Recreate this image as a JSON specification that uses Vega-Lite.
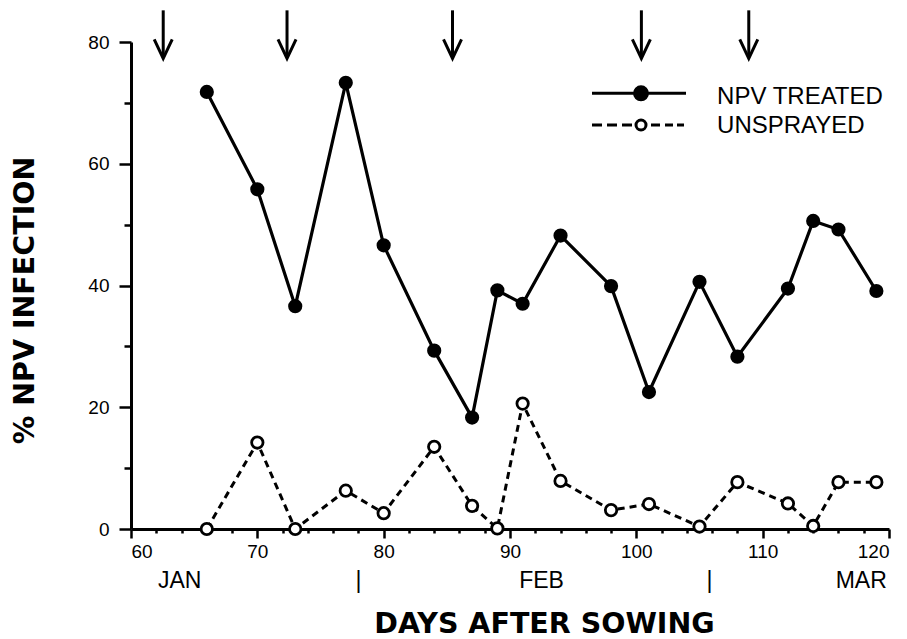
{
  "$schema": "https://vega.github.io/schema/vega-lite/v6.json",
  "autosize": {"type": "none"},
  "padding": {"left": 131, "top": 42, "right": 18, "bottom": 110},
  "width": 758,
  "height": 487,
  "background": "white",
  "config": {
    "view": {"stroke": null},
    "font": "Liberation Sans",
    "axis": {"domainColor": "black", "tickColor": "black", "labelColor": "black", "titleColor": "black", "grid": false}
  },
  "datasets": {
    "obs": [
      {"day": 66, "pct": 71.8, "series": "NPV TREATED"},
      {"day": 70, "pct": 55.8, "series": "NPV TREATED"},
      {"day": 73, "pct": 36.6, "series": "NPV TREATED"},
      {"day": 77, "pct": 73.3, "series": "NPV TREATED"},
      {"day": 80, "pct": 46.6, "series": "NPV TREATED"},
      {"day": 84, "pct": 29.3, "series": "NPV TREATED"},
      {"day": 87, "pct": 18.3, "series": "NPV TREATED"},
      {"day": 89, "pct": 39.2, "series": "NPV TREATED"},
      {"day": 91, "pct": 37.0, "series": "NPV TREATED"},
      {"day": 94, "pct": 48.2, "series": "NPV TREATED"},
      {"day": 98, "pct": 39.9, "series": "NPV TREATED"},
      {"day": 101, "pct": 22.5, "series": "NPV TREATED"},
      {"day": 105, "pct": 40.6, "series": "NPV TREATED"},
      {"day": 108, "pct": 28.3, "series": "NPV TREATED"},
      {"day": 112, "pct": 39.5, "series": "NPV TREATED"},
      {"day": 114, "pct": 50.6, "series": "NPV TREATED"},
      {"day": 116, "pct": 49.2, "series": "NPV TREATED"},
      {"day": 119, "pct": 39.1, "series": "NPV TREATED"},
      {"day": 66, "pct": 0, "series": "UNSPRAYED"},
      {"day": 70, "pct": 14.2, "series": "UNSPRAYED"},
      {"day": 73, "pct": 0, "series": "UNSPRAYED"},
      {"day": 77, "pct": 6.3, "series": "UNSPRAYED"},
      {"day": 80, "pct": 2.6, "series": "UNSPRAYED"},
      {"day": 84, "pct": 13.5, "series": "UNSPRAYED"},
      {"day": 87, "pct": 3.8, "series": "UNSPRAYED"},
      {"day": 89, "pct": 0.1, "series": "UNSPRAYED"},
      {"day": 91, "pct": 20.6, "series": "UNSPRAYED"},
      {"day": 94, "pct": 7.9, "series": "UNSPRAYED"},
      {"day": 98, "pct": 3.1, "series": "UNSPRAYED"},
      {"day": 101, "pct": 4.1, "series": "UNSPRAYED"},
      {"day": 105, "pct": 0.4, "series": "UNSPRAYED"},
      {"day": 108, "pct": 7.7, "series": "UNSPRAYED"},
      {"day": 112, "pct": 4.2, "series": "UNSPRAYED"},
      {"day": 114, "pct": 0.5, "series": "UNSPRAYED"},
      {"day": 116, "pct": 7.7, "series": "UNSPRAYED"},
      {"day": 119, "pct": 7.7, "series": "UNSPRAYED"}
    ],
    "sprays": [
      {"day": 62.55},
      {"day": 72.35},
      {"day": 85.45},
      {"day": 100.4},
      {"day": 108.9}
    ],
    "months": [
      {"day": 63.85, "label": "JAN"},
      {"day": 78.0, "label": "|"},
      {"day": 92.5, "label": "FEB"},
      {"day": 105.8, "label": "|"},
      {"day": 117.8, "label": "MAR"}
    ],
    "legend": [
      {"series": "NPV TREATED", "label": "NPV TREATED"},
      {"series": "UNSPRAYED", "label": "UNSPRAYED"}
    ]
  },
  "resolve": {"axis": {"x": "independent", "y": "independent"}},
  "layer": [
    {
      "data": {"name": "obs"},
      "transform": [{"filter": "datum.series === 'NPV TREATED'"}],
      "mark": {"type": "line", "strokeWidth": 3.2, "color": "black"},
      "encoding": {
        "x": {
          "field": "day", "type": "quantitative",
          "scale": {"domain": [60, 120], "nice": false, "zero": false},
          "axis": {
            "orient": "bottom",
            "values": [60, 70, 80, 90, 100, 110, 120],
            "labelOverlap": false,
            "labelFontSize": 19,
            "labelFont": "Liberation Sans",
            "labelPadding": 4,
            "tickSize": 9,
            "tickWidth": 2.5,
            "domainWidth": 3,
            "title": "DAYS AFTER SOWING",
            "titleFont": "DejaVu Sans",
            "titleFontWeight": "bold",
            "titleFontSize": 28.5,
            "titleAlign": "center",
            "titleAnchor": null,
            "titleX": 413,
            "titleY": 103,
            "titleBaseline": "alphabetic"
          }
        },
        "y": {
          "field": "pct", "type": "quantitative",
          "scale": {"domain": [0, 80], "nice": false},
          "axis": {
            "orient": "left",
            "values": [0, 20, 40, 60, 80],
            "labelOverlap": false,
            "labelFontSize": 19,
            "labelFont": "Liberation Sans",
            "labelPadding": 10,
            "tickSize": 12,
            "tickWidth": 2.5,
            "domainWidth": 3,
            "title": "% NPV INFECTION",
            "titleFont": "DejaVu Sans",
            "titleFontWeight": "bold",
            "titleFontSize": 28.5,
            "titleAlign": "center",
            "titleAnchor": null,
            "titleX": -98,
            "titleY": 258,
            "titleBaseline": "alphabetic"
          }
        }
      }
    },
    {
      "data": {"name": "obs"},
      "transform": [{"filter": "datum.series === 'UNSPRAYED'"}],
      "mark": {"type": "line", "strokeWidth": 3, "color": "black", "strokeDash": [7, 5]},
      "encoding": {
        "x": {
          "field": "day", "type": "quantitative",
          "axis": {
            "orient": "bottom",
            "values": [62, 64, 66, 68, 72, 74, 76, 78, 82, 84, 86, 88, 92, 94, 96, 98, 102, 104, 106, 108, 112, 114, 116, 118],
            "labels": false,
            "domain": false,
            "tickSize": 4,
            "tickWidth": 2.5,
            "title": null
          }
        },
        "y": {
          "field": "pct", "type": "quantitative",
          "axis": {
            "orient": "left",
            "values": [10, 30, 50, 70],
            "labels": false,
            "domain": false,
            "tickSize": 7,
            "tickWidth": 2.5,
            "title": null
          }
        }
      }
    },
    {
      "data": {"name": "obs"},
      "mark": {"type": "point", "shape": "circle", "filled": true, "stroke": "black", "strokeWidth": 2.8, "opacity": 1, "size": 130},
      "encoding": {
        "x": {"field": "day", "type": "quantitative", "axis": null},
        "y": {"field": "pct", "type": "quantitative", "axis": null},
        "fill": {
          "field": "series", "type": "nominal",
          "scale": {"domain": ["NPV TREATED", "UNSPRAYED"], "range": ["black", "white"]},
          "legend": null
        }
      }
    },
    {
      "data": {"name": "legend"},
      "transform": [{"filter": "datum.series === 'NPV TREATED'"}],
      "mark": {"type": "point", "shape": "M-49,0H-7M7,0H45M-6.5,0A6.5,6.5,0,1,0,6.5,0A6.5,6.5,0,1,0,-6.5,0", "size": 4, "filled": true, "fill": "black", "stroke": "black", "strokeWidth": 3, "opacity": 1},
      "encoding": {
        "x": {"datum": 100.37, "type": "quantitative", "axis": null},
        "y": {"datum": 71.57, "type": "quantitative", "axis": null}
      }
    },
    {
      "data": {"name": "legend"},
      "transform": [{"filter": "datum.series === 'UNSPRAYED'"}],
      "mark": {"type": "point", "shape": "M-49,0H-39M-34,0H-24M-19,0H-9M10,0H19M24,0H32M36,0H43M-5,0A5,5,0,1,0,5,0A5,5,0,1,0,-5,0", "size": 4, "filled": true, "fill": "white", "stroke": "black", "strokeWidth": 3, "opacity": 1},
      "encoding": {
        "x": {"datum": 100.37, "type": "quantitative", "axis": null},
        "y": {"datum": 66.37, "type": "quantitative", "axis": null}
      }
    },
    {
      "data": {"name": "legend"},
      "transform": [{"filter": "datum.series === 'NPV TREATED'"}],
      "mark": {"type": "text", "fontSize": 24, "font": "Liberation Sans", "color": "black", "align": "left", "baseline": "alphabetic"},
      "encoding": {
        "x": {"datum": 106.39, "type": "quantitative", "axis": null},
        "y": {"datum": 69.82, "type": "quantitative", "axis": null},
        "text": {"field": "label"}
      }
    },
    {
      "data": {"name": "legend"},
      "transform": [{"filter": "datum.series === 'UNSPRAYED'"}],
      "mark": {"type": "text", "fontSize": 24, "font": "Liberation Sans", "color": "black", "align": "left", "baseline": "alphabetic"},
      "encoding": {
        "x": {"datum": 106.39, "type": "quantitative", "axis": null},
        "y": {"datum": 65.0, "type": "quantitative", "axis": null},
        "text": {"field": "label"}
      }
    },
    {
      "data": {"name": "sprays"},
      "mark": {"type": "rule", "strokeWidth": 3, "color": "black"},
      "encoding": {
        "x": {"field": "day", "type": "quantitative", "axis": null},
        "y": {"datum": 85.2, "axis": null},
        "y2": {"datum": 77.6}
      }
    },
    {
      "data": {"name": "sprays"},
      "mark": {"type": "point", "shape": "M-9,-19L0,0L9,-19", "size": 4, "filled": false, "stroke": "black", "strokeWidth": 3, "opacity": 1},
      "encoding": {
        "x": {"field": "day", "type": "quantitative", "axis": null},
        "y": {"datum": 77.3, "axis": null}
      }
    },
    {
      "data": {"name": "months"},
      "mark": {"type": "text", "fontSize": 23, "font": "Liberation Sans", "color": "black", "baseline": "middle", "align": "center"},
      "encoding": {
        "x": {"field": "day", "type": "quantitative", "axis": null},
        "y": {"datum": -8.6, "axis": null},
        "text": {"field": "label"}
      }
    }
  ]
}
